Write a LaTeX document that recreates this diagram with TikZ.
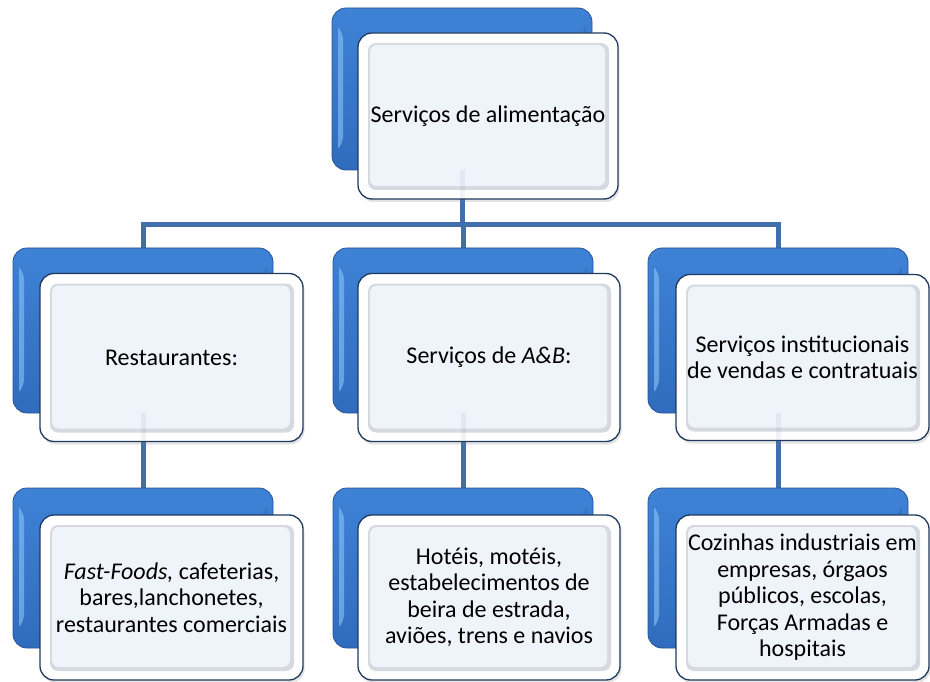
\documentclass[tikz,border=0pt]{standalone}
\usepackage{fontspec}
\setmainfont{Carlito}
\usetikzlibrary{shadows}
\pgfdeclarelayer{bg}
\pgfsetlayers{bg,main}
\definecolor{connc}{RGB}{66,110,170}
\definecolor{blueA}{RGB}{62,130,214}
\definecolor{blueB}{RGB}{48,108,190}
\definecolor{blueEdge}{RGB}{38,84,150}
\definecolor{blueHi}{RGB}{140,196,246}
\definecolor{frontEdge}{RGB}{32,58,96}
\definecolor{frontIn}{RGB}{239,243,250}
\definecolor{frontRing}{RGB}{214,218,224}
\begin{document}
\begin{tikzpicture}[x=1pt,y=-1pt,
  backbox/.style={rounded corners=14pt, draw=blueEdge, line width=0.8pt,
    top color=blueA, bottom color=blueB, inner sep=0pt,
    path picture={
      \fill[blueHi, opacity=0.6, rounded corners=3pt]
        ([shift={(6,18)}]path picture bounding box.north west) --
        ([shift={(11,28)}]path picture bounding box.north west) --
        ([shift={(11,-30)}]path picture bounding box.south west) --
        ([shift={(6,-20)}]path picture bounding box.south west) -- cycle;
      \fill[blueEdge, opacity=0.3, rounded corners=3pt]
        ([shift={(-6,18)}]path picture bounding box.north east) --
        ([shift={(-11,28)}]path picture bounding box.north east) --
        ([shift={(-11,-30)}]path picture bounding box.south east) --
        ([shift={(-6,-20)}]path picture bounding box.south east) -- cycle;
    }},
  frontbox/.style={rounded corners=14pt, draw=frontEdge, line width=1.3pt,
    fill=white, inner sep=2pt, align=center,
    font=\fontsize{24}{26.5}\selectfont,
    drop shadow={shadow xshift=1.5pt, shadow yshift=-3pt, opacity=0.22},
    path picture={
      \fill[frontRing, rounded corners=8pt]
        ([shift={(10,10)}]path picture bounding box.north west) rectangle
        ([shift={(-9,-9)}]path picture bounding box.south east);
      \fill[frontIn, rounded corners=7pt]
        ([shift={(12,12)}]path picture bounding box.north west) rectangle
        ([shift={(-13,-13)}]path picture bounding box.south east);
    }},
  conn/.style={draw=connc, line width=5pt},
  connfaint/.style={draw=connc, line width=5pt, opacity=0.08}
]
\useasboundingbox (0,0) rectangle (930,682);

% top
\node[backbox, minimum width=260pt, minimum height=162pt] (b0) at (462,89) {};
\node[frontbox, minimum width=260pt, minimum height=166pt] (t0) at (488,116) {Serviços de alimentação};

% middle row
\node[backbox, minimum width=260pt, minimum height=165pt] (b1) at (143,330.5) {};
\node[frontbox, minimum width=263pt, minimum height=168pt] (t1) at (171.5,357.5) {Restaurantes:};

\node[backbox, minimum width=260pt, minimum height=165pt] (b2) at (463,330.5) {};
\node[frontbox, minimum width=262pt, minimum height=168pt] (t2) at (489,357.5) {Serviços de \textit{A\&B}:};

\node[backbox, minimum width=260pt, minimum height=165pt] (b3) at (778,330.5) {};
\node[frontbox, minimum width=253pt, minimum height=166pt] (t3) at (802.5,357.5) {Serviços institucionais\\de vendas e contratuais};

% bottom row
\node[backbox, minimum width=260pt, minimum height=160pt] (b4) at (143,568) {};
\node[frontbox, minimum width=263pt, minimum height=165pt] (t4) at (171.5,597.5) {\textit{Fast-Foods,} cafeterias,\\bares,lanchonetes,\\restaurantes comerciais};

\node[backbox, minimum width=260pt, minimum height=160pt] (b5) at (463,568) {};
\node[frontbox, minimum width=262pt, minimum height=165pt] (t5) at (489,597.5) {Hotéis, motéis,\\estabelecimentos de\\beira de estrada,\\aviões, trens e navios};

\node[backbox, minimum width=260pt, minimum height=160pt] (b6) at (778,568) {};
\node[frontbox, minimum width=253pt, minimum height=165pt] (t6) at (802.5,597.5) {Cozinhas industriais em\\empresas, órgaos\\públicos, escolas,\\Forças Armadas e\\hospitais};

% connectors
\coordinate (bus) at (0,225);
\begin{pgfonlayer}{bg}
  \draw[conn] (b0.center) -- (b0.center |- bus);
  \draw[conn, line cap=rect] (b1.center |- bus) -- (b3.center |- bus);
  \draw[conn] (b1.center |- bus) -- (b1.center);
  \draw[conn] (b2.center |- bus) -- (b2.center);
  \draw[conn] (b3.center |- bus) -- (b3.center);
  \draw[conn] (b1.center) -- (b4.center);
  \draw[conn] (b2.center) -- (b5.center);
  \draw[conn] (b3.center) -- (b6.center);
\end{pgfonlayer}
\draw[connfaint] (b0.south) -- (b0.center |- t0.south);
\draw[connfaint] (b1.south) -- (b1.center |- t1.south);
\draw[connfaint] (b2.south) -- (b2.center |- t2.south);
\draw[connfaint] (b3.south) -- (b3.center |- t3.south);
\end{tikzpicture}
\end{document}
